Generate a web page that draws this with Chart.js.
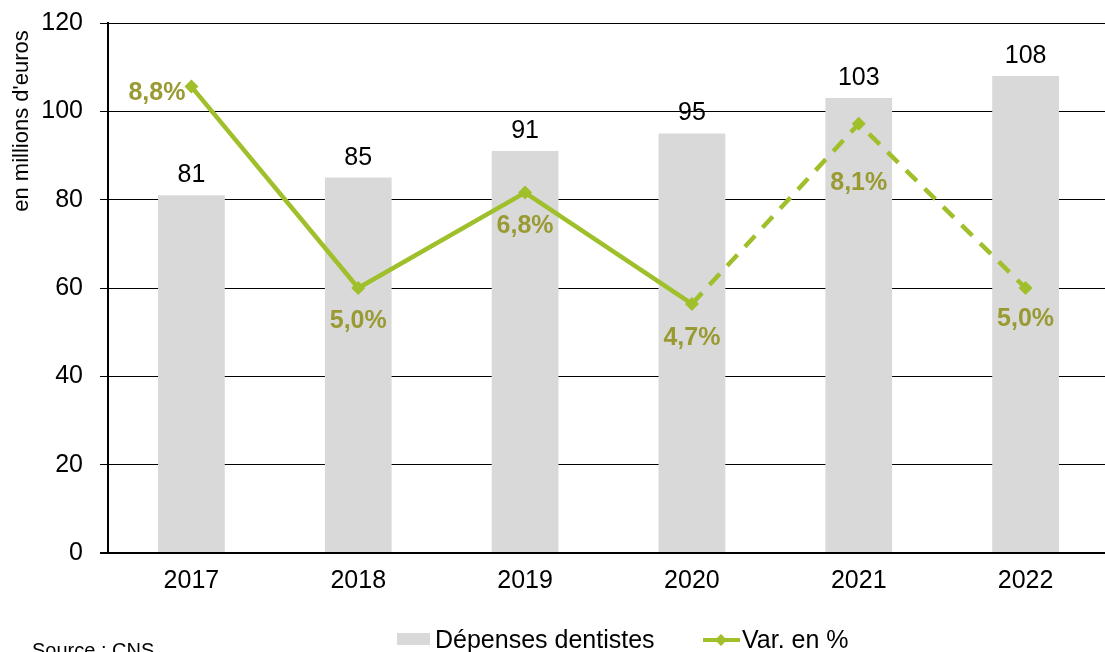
<!DOCTYPE html>
<html>
<head>
<meta charset="utf-8">
<script src="https://cdn.jsdelivr.net/npm/chart.js@4"></script>
<style>
  body { margin: 0; overflow: hidden; background: #fff; }
  #wrap { position: relative; width: 1105px; height: 652px; overflow: hidden; }
  canvas { position: absolute; left: 0; top: 0; }
</style>
</head>
<body>
<div id="wrap"><canvas id="myChart" width="1116" height="652"></canvas></div>
<script>
'use strict';
const years = ['2017', '2018', '2019', '2020', '2021', '2022'];
const depenses = [81, 85, 91, 95, 103, 108];
const variation = [8.8, 5.0, 6.8, 4.7, 8.1, 5.0];
const varLabels = ['8,8%', '5,0%', '6,8%', '4,7%', '8,1%', '5,0%'];
const yTicks = [0, 20, 40, 60, 80, 100, 120];

const FONT = '"Liberation Sans", Arial, sans-serif';
const barColor = '#d9d9d9';
const lineColor = '#9fbf2b';
const pctColor = '#9a9a33';

// where the % labels go, relative to the point (baseline offset)
const pctOffsets = [13, 40, 40, 41, 66, 38];

const labelsPlugin = {
  id: 'labels',
  afterDatasetsDraw(chart) {
    const ctx = chart.ctx;
    ctx.save();
    ctx.textBaseline = 'alphabetic';
    // bar values
    ctx.font = '25px ' + FONT;
    ctx.fillStyle = '#000';
    ctx.textAlign = 'center';
    chart.getDatasetMeta(1).data.forEach(function (bar, i) {
      ctx.fillText(String(depenses[i]), bar.x, bar.y - 13);
    });
    // variation labels
    ctx.font = 'bold 25px ' + FONT;
    ctx.fillStyle = pctColor;
    chart.getDatasetMeta(0).data.forEach(function (pt, i) {
      if (i === 0) {
        ctx.textAlign = 'right';
        ctx.fillText(varLabels[i], pt.x - 6, pt.y + pctOffsets[i]);
      } else {
        ctx.textAlign = 'center';
        ctx.fillText(varLabels[i], pt.x, pt.y + pctOffsets[i]);
      }
    });
    ctx.restore();
  },
  afterDraw(chart) {
    const ctx = chart.ctx;
    ctx.save();
    // axis title
    ctx.translate(22, 121);
    ctx.rotate(-Math.PI / 2);
    ctx.font = '22px ' + FONT;
    ctx.fillStyle = '#000';
    ctx.textAlign = 'center';
    ctx.textBaseline = 'middle';
    ctx.fillText("en millions d'euros", 0, 0);
    ctx.restore();

    ctx.save();
    ctx.fillStyle = '#000';
    ctx.textBaseline = 'alphabetic';
    ctx.textAlign = 'left';
    ctx.font = '20px ' + FONT;
    ctx.fillText('Source : CNS', 32, 657);

    // legend
    ctx.fillStyle = barColor;
    ctx.fillRect(397, 633, 33, 12);
    ctx.fillStyle = '#000';
    ctx.font = '25px ' + FONT;
    ctx.fillText('Dépenses dentistes', 435, 648);

    ctx.strokeStyle = lineColor;
    ctx.lineWidth = 4;
    ctx.beginPath();
    ctx.moveTo(703, 640);
    ctx.lineTo(740, 640);
    ctx.stroke();
    ctx.fillStyle = lineColor;
    ctx.beginPath();
    ctx.moveTo(721, 634);
    ctx.lineTo(727, 640);
    ctx.lineTo(721, 646);
    ctx.lineTo(715, 640);
    ctx.closePath();
    ctx.fill();
    ctx.fillStyle = '#000';
    ctx.fillText('Var. en %', 742, 648);
    ctx.restore();
  }
};

const ctx = document.getElementById('myChart').getContext('2d');
const chart = new Chart(ctx, {
  type: 'bar',
  data: {
    labels: years,
    datasets: [{
      type: 'line',
      label: 'Var. en %',
      data: variation,
      yAxisID: 'y2',
      order: 0,
      borderColor: lineColor,
      backgroundColor: lineColor,
      borderWidth: 4.5,
      pointStyle: 'rectRot',
      pointRadius: 7,
      pointBackgroundColor: lineColor,
      pointBorderWidth: 0,
      tension: 0,
      segment: {
        borderDash: function (c) { return c.p0DataIndex >= 3 ? [15, 11] : undefined; }
      }
    },
    {
      type: 'bar',
      label: 'Dépenses dentistes',
      data: depenses,
      yAxisID: 'y',
      order: 1,
      backgroundColor: barColor,
      borderWidth: 0,
      barPercentage: 0.4,
      categoryPercentage: 1
    }]
  },
  options: {
    responsive: false,
    animation: false,
    events: [],
    layout: { padding: { top: 23, right: 1, bottom: 0, left: 0 } },
    plugins: {
      legend: { display: false },
      tooltip: { enabled: false }
    },
    scales: {
      x: {
        grid: { display: false, drawTicks: false },
        border: { display: false },
        ticks: { color: '#000', font: { family: FONT, size: 25 }, padding: 13, maxRotation: 0 },
        afterFit: function (s) { s.height = 99; s.paddingLeft = 0; s.paddingRight = 0; }
      },
      y: {
        min: 0,
        max: 120,
        afterBuildTicks: function (s) { s.ticks = yTicks.map(function (v) { return { value: v }; }); },
        grid: {
          color: '#000',
          lineWidth: function (c) { return c.tick && c.tick.value === 0 ? 2 : 1; },
          drawTicks: true,
          tickLength: 8,
          tickColor: '#000'
        },
        border: { display: true, color: '#000', width: 2 },
        ticks: { color: '#000', font: { family: FONT, size: 25 }, padding: 17 },
        afterFit: function (s) { s.width = 108; s.paddingTop = 0; s.paddingBottom = 0; }
      },
      y2: {
        display: false,
        min: 0,
        max: 10
      }
    }
  },
  plugins: [labelsPlugin]
});
</script>
</body>
</html>
